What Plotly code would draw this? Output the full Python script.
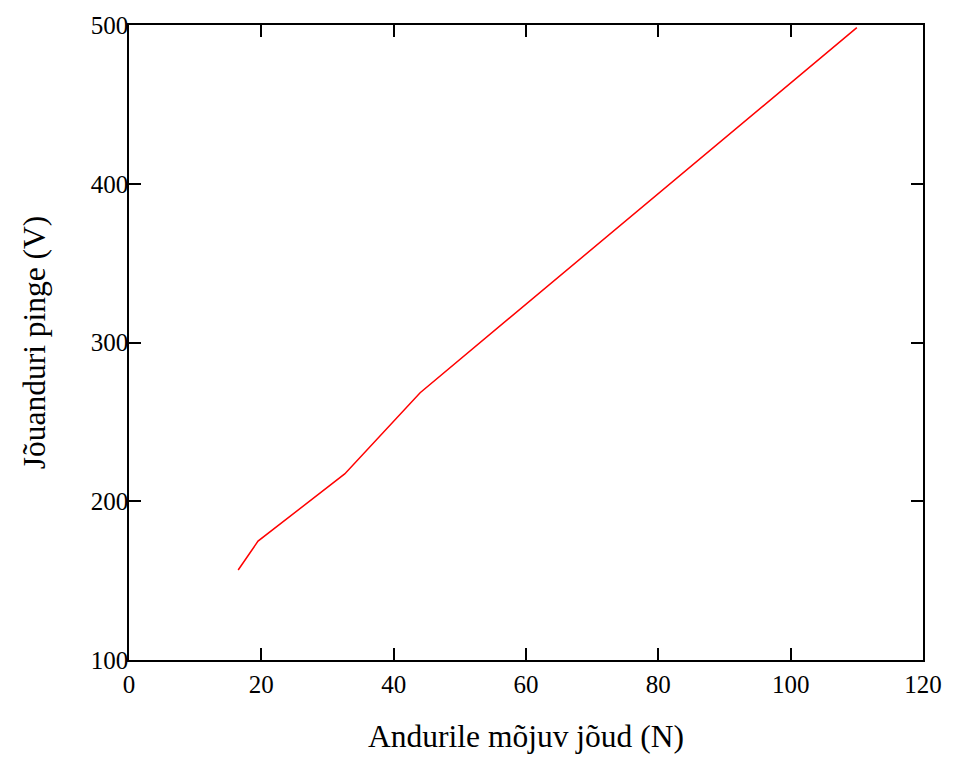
import plotly.graph_objects as go

force_N = [16.5, 19.5, 32.6, 44.0, 110.0]
voltage_V = [156.7, 174.9, 217.2, 268.4, 498.3]
x_ticks = [0, 20, 40, 60, 80, 100, 120]
y_ticks = [100, 200, 300, 400, 500]

fig = go.Figure()
fig.add_trace(go.Scatter(x=force_N, y=voltage_V, mode="lines",
                         line=dict(color="#ff0000", width=1.5), showlegend=False))

font = "Liberation Serif, Times New Roman, serif"
axis_common = dict(showgrid=False, zeroline=False, showline=True, linecolor="black",
                   linewidth=1.5, mirror="allticks", ticks="inside", ticklen=12,
                   tickwidth=1.5, tickcolor="black",
                   tickfont=dict(family=font, size=25, color="black"))

fig.update_layout(
    width=956, height=760,
    margin=dict(l=129, r=33, t=23, b=98),
    paper_bgcolor="white", plot_bgcolor="white",
    xaxis=dict(range=[0, 120], tickvals=x_ticks, ticklabelstandoff=1,
               title=dict(text="Andurile mõjuv jõud (N)", font=dict(family=font, size=31.5, color="black"), standoff=28),
               **axis_common),
    yaxis=dict(range=[100, 500], tickvals=y_ticks, ticklabelstandoff=-6,
               title=dict(text="Jõuanduri pinge (V)", font=dict(family=font, size=31.5, color="black"), standoff=36),
               **axis_common),
)

fig.write_html("out.html")
